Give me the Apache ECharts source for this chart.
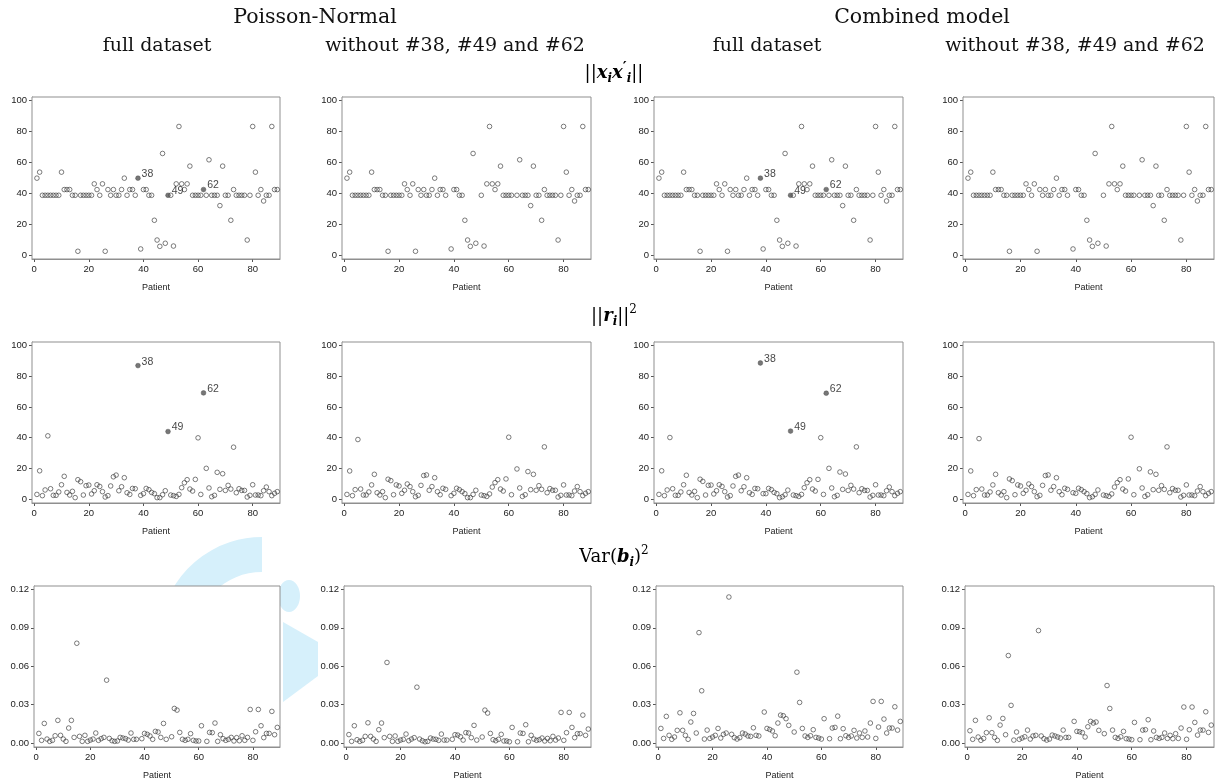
<!DOCTYPE html>
<html><head><meta charset="utf-8">
<script src="https://cdn.jsdelivr.net/npm/echarts@6/dist/echarts.min.js"></script>
<style>html,body{margin:0;padding:0;background:#fff}#c{width:1228px;height:782px}</style>
</head><body><div id="c"></div><script>
// ---------- data ----------
const patients = [1,2,3,4,5,6,7,8,9,10,11,12,13,14,15,16,17,18,19,20,21,22,23,24,25,26,27,28,29,30,
31,32,33,34,35,36,37,38,39,40,41,42,43,44,45,46,47,48,49,50,51,52,53,54,55,56,57,58,59,60,
61,62,63,64,65,66,67,68,69,70,71,72,73,74,75,76,77,78,79,80,81,82,83,84,85,86,87,88,89];
const flagged = [38, 49, 62];
const xTicks = [0, 20, 40, 60, 80];
const yTicksTop = [0, 20, 40, 60, 80, 100];
const yTicksVar = [0, 0.03, 0.06, 0.09, 0.12];

// ||x_i x_i'||  (same for both models)
const leverage = [
49.8,53.7,38.7,38.7,38.7,38.7,38.7,38.7,38.7,53.7,
42.4,42.4,42.4,38.7,38.7,2.4,38.7,38.7,38.7,38.7,
38.7,46.1,42.4,38.7,46.1,2.4,42.4,38.7,42.4,38.7,
38.7,42.4,49.8,38.7,42.4,42.4,38.7,49.8,3.9,42.4,
42.4,38.7,38.7,22.5,9.7,5.6,65.8,7.6,38.7,38.7,
5.8,46.1,83.3,46.1,42.4,46.1,57.6,38.7,38.7,38.7,
38.7,42.4,38.7,61.7,38.7,38.7,38.7,32.0,57.6,38.7,
38.7,22.5,42.4,38.7,38.7,38.7,38.7,9.7,38.7,83.3,
53.7,38.7,42.4,35.0,38.7,38.7,83.3,42.4,42.4];

// ||r_i||^2
const resPNFull = [
3.0,18.4,2.2,5.9,41.2,6.7,2.4,2.4,4.6,9.3,
14.8,4.3,2.6,5.0,0.9,12.6,11.3,2.6,8.7,9.1,
3.3,5.4,9.3,8.2,4.8,1.3,2.2,8.5,14.5,15.6,
5.4,8.0,13.9,4.1,3.0,6.9,6.7,87.0,2.4,3.5,
6.9,6.1,4.3,3.5,0.9,0.9,2.8,5.4,44.0,2.6,
2.2,1.7,3.0,7.4,10.6,12.6,6.5,5.2,12.8,39.9,
3.0,69.2,20.0,7.2,1.5,2.4,17.4,6.3,16.5,5.6,
8.9,6.5,33.8,4.1,6.7,5.6,5.6,1.3,2.4,9.3,
2.6,2.6,2.2,5.4,7.8,4.8,2.2,3.7,4.8];
const resPNRed = [
3.0,18.3,2.2,6.1,38.8,6.5,2.6,2.6,4.6,9.2,
16.1,4.1,2.6,4.8,0.9,12.9,12.0,2.8,9.2,8.5,
3.7,5.7,9.8,8.1,4.8,1.5,2.4,8.9,15.3,15.7,
5.7,8.1,13.9,4.8,2.8,7.0,6.3,null,2.2,3.7,
7.0,6.1,4.8,3.5,0.9,0.9,3.0,5.7,null,2.6,
2.2,1.7,3.3,7.8,10.7,12.6,6.5,5.2,13.1,40.3,
2.8,null,19.6,7.2,1.7,2.8,17.9,6.1,16.1,5.7,
8.7,6.3,34.0,4.1,6.8,5.7,5.7,1.3,2.4,9.2,
2.6,2.6,2.2,5.2,8.1,4.8,2.2,3.7,4.8];
const resCMFull = [
3.0,18.4,2.2,5.9,40.1,6.7,2.4,2.4,4.6,9.3,
15.5,4.3,2.6,5.0,0.9,12.9,11.5,2.6,8.9,9.1,
3.3,5.4,9.3,8.2,4.8,1.3,2.2,8.5,14.8,15.6,
5.4,8.0,13.9,4.1,3.0,6.9,6.7,88.7,3.5,3.5,
6.9,6.1,4.3,3.5,0.9,1.5,2.8,5.8,44.3,2.6,
2.2,1.7,3.0,7.4,10.6,12.6,6.5,5.2,12.8,40.0,
3.0,69.0,20.0,7.2,1.5,2.4,17.6,6.3,16.3,5.6,
8.9,6.5,34.0,4.1,6.7,5.6,5.6,1.3,2.4,9.3,
2.6,2.6,2.2,5.4,7.8,4.8,2.2,3.7,4.8];
const resCMRed = [
3.0,18.3,2.2,6.1,39.4,6.5,2.6,2.6,4.6,9.2,
16.1,4.1,2.6,4.8,0.9,13.1,12.0,2.8,9.2,8.5,
3.7,5.7,9.8,8.1,4.8,1.5,2.4,8.9,15.3,15.7,
5.7,8.1,13.9,4.8,2.8,7.0,6.3,null,4.1,3.7,
7.0,6.1,4.8,3.5,0.9,1.5,3.0,5.9,null,2.6,
2.2,1.7,3.3,7.8,10.7,12.6,6.5,5.2,13.1,40.3,
2.8,null,19.7,7.2,1.7,2.8,17.7,6.1,16.1,5.7,
8.7,6.3,34.0,4.1,6.8,5.7,5.7,1.3,2.4,9.2,
2.6,2.6,2.2,5.2,8.1,4.8,2.2,3.7,4.8];

// Var(b_i)^2
const varPNFull = [
0.0075,0.0021,0.0153,0.0031,0.0013,0.0021,0.0057,0.0177,0.0060,0.0031,
0.0013,0.0117,0.0177,0.0044,0.0779,0.0052,0.0013,0.0060,0.0013,0.0023,
0.0031,0.0078,0.0021,0.0034,0.0044,0.0491,0.0036,0.0018,0.0013,0.0016,
0.0044,0.0039,0.0034,0.0023,0.0078,0.0029,0.0029,0.0010,0.0034,0.0075,
0.0068,0.0055,0.0029,0.0091,0.0086,0.0044,0.0153,0.0029,0.0013,0.0049,
0.0270,0.0257,0.0083,0.0029,0.0021,0.0029,0.0073,0.0021,0.0016,0.0016,
0.0135,0.0010,0.0013,0.0083,0.0081,0.0156,0.0013,0.0065,0.0034,0.0021,
0.0029,0.0044,0.0016,0.0042,0.0018,0.0057,0.0021,0.0044,0.0262,0.0021,
0.0088,0.0262,0.0135,0.0042,0.0075,0.0075,0.0247,0.0065,0.0122];
const varPNRed = [
0.0066,0.0013,0.0135,0.0026,0.0013,0.0021,0.0052,0.0158,0.0052,0.0031,
0.0013,0.0104,0.0156,0.0042,0.0629,0.0052,0.0013,0.0055,0.0013,0.0023,
0.0029,0.0070,0.0018,0.0031,0.0042,0.0436,0.0031,0.0018,0.0010,0.0013,
0.0039,0.0031,0.0029,0.0021,0.0070,0.0023,0.0023,null,0.0029,0.0065,
0.0062,0.0049,0.0023,0.0081,0.0078,0.0042,0.0138,0.0023,null,0.0047,
0.0257,0.0234,0.0075,0.0026,0.0018,0.0029,0.0068,0.0016,0.0016,0.0010,
0.0122,null,0.0010,0.0078,0.0075,0.0143,0.0010,0.0060,0.0031,0.0021,
0.0026,0.0039,0.0016,0.0036,0.0018,0.0052,0.0023,0.0039,0.0239,0.0021,
0.0081,0.0239,0.0122,0.0042,0.0073,0.0073,0.0218,0.0060,0.0109];
const varCMFull = [
0.0114,0.0036,0.0208,0.0060,0.0029,0.0047,0.0099,0.0236,0.0099,0.0060,
0.0029,0.0164,0.0231,0.0078,0.0862,0.0408,0.0031,0.0101,0.0036,0.0047,
0.0060,0.0114,0.0039,0.0068,0.0078,0.1140,0.0068,0.0042,0.0031,0.0042,
0.0078,0.0070,0.0055,0.0052,0.0119,0.0060,0.0055,0.0026,0.0242,0.0114,
0.0106,0.0094,0.0057,0.0156,0.0218,0.0213,0.0190,0.0138,0.0031,0.0086,
0.0553,0.0317,0.0114,0.0055,0.0044,0.0057,0.0104,0.0044,0.0039,0.0031,
0.0190,0.0031,0.0034,0.0117,0.0122,0.0210,0.0034,0.0112,0.0057,0.0044,
0.0055,0.0099,0.0039,0.0078,0.0044,0.0094,0.0047,0.0156,0.0325,0.0036,
0.0125,0.0325,0.0187,0.0078,0.0117,0.0117,0.0283,0.0101,0.0169];
const varCMRed = [
0.0096,0.0029,0.0177,0.0047,0.0021,0.0036,0.0081,0.0197,0.0081,0.0044,
0.0021,0.0140,0.0192,0.0065,0.0683,0.0294,0.0023,0.0086,0.0029,0.0039,
0.0049,0.0101,0.0031,0.0055,0.0060,0.0878,0.0055,0.0034,0.0023,0.0031,
0.0062,0.0055,0.0047,0.0039,0.0101,0.0044,0.0044,null,0.0169,0.0091,
0.0088,0.0081,0.0047,0.0127,0.0169,0.0156,0.0164,0.0099,null,0.0073,
0.0449,0.0270,0.0101,0.0044,0.0036,0.0049,0.0091,0.0034,0.0031,0.0026,
0.0161,null,0.0026,0.0101,0.0104,0.0182,0.0026,0.0094,0.0044,0.0036,
0.0044,0.0078,0.0036,0.0060,0.0034,0.0073,0.0036,0.0117,0.0281,0.0029,
0.0104,0.0281,0.0161,0.0062,0.0101,0.0101,0.0244,0.0083,0.0140];

const modelTitles = ['Poisson-Normal', 'Combined model'];
const colTitles = ['full dataset', 'without #38, #49 and #62', 'full dataset', 'without #38, #49 and #62'];

// ---------- layout ----------
const colLeft = [[32, 342, 654, 963], [32, 342, 654, 963], [34, 344, 656, 965]];
const colRight = [280, 591, 903, 1214];
const rowTop = [97, 342, 586];
const rowBottom = [259, 503, 747];

const panels = [
  [0, 0, leverage, true], [0, 1, leverage, false], [0, 2, leverage, true], [0, 3, leverage, false],
  [1, 0, resPNFull, true], [1, 1, resPNRed, false], [1, 2, resCMFull, true], [1, 3, resCMRed, false],
  [2, 0, varPNFull, false], [2, 1, varPNRed, false], [2, 2, varCMFull, false], [2, 3, varCMRed, false]
];
const labelled = [[true, false, true, false], [true, false, true, false], [false, false, false, false]];

const grids = [], xAxes = [], yAxes = [], series = [];
const axisFont = 'Liberation Sans';
panels.forEach((p, i) => {
  const [r, c, vals] = p;
  const full = p[3];
  grids.push({
    left: colLeft[r][c], top: rowTop[r],
    width: colRight[c] - colLeft[r][c], height: rowBottom[r] - rowTop[r],
    show: true, borderColor: '#8f8f8f', borderWidth: 1, backgroundColor: '#fff', z: 2
  });
  xAxes.push({
    gridIndex: i, type: 'value', min: -0.8, max: 90,
    name: 'Patient', nameLocation: 'middle', nameGap: 24,
    nameTextStyle: { fontFamily: axisFont, fontSize: 9, color: '#222' },
    axisLine: { show: true, onZero: false, lineStyle: { color: '#8f8f8f', width: 1 } },
    axisTick: { show: true, length: 3, lineStyle: { color: '#555' }, customValues: xTicks },
    axisLabel: { fontFamily: axisFont, fontSize: 9.5, color: '#222', margin: 5, customValues: xTicks },
    splitLine: { show: false }
  });
  const isVar = r === 2;
  yAxes.push({
    gridIndex: i, type: 'value',
    min: isVar ? -0.0031 : -2.6, max: isVar ? 0.1226 : 102.4,
    axisLine: { show: true, onZero: false, lineStyle: { color: '#8f8f8f', width: 1 } },
    axisTick: { show: true, length: 3, lineStyle: { color: '#555' }, customValues: isVar ? yTicksVar : yTicksTop },
    axisLabel: {
      fontFamily: axisFont, fontSize: 9.5, color: '#222', margin: 5,
      customValues: isVar ? yTicksVar : yTicksTop,
      formatter: v => isVar ? Number(v).toFixed(2) : String(v)
    },
    splitLine: { show: false }
  });
  const showLab = labelled[r][c];
  const openPts = [], filledPts = [];
  patients.forEach((pt, k) => {
    const v = vals[k];
    if (v === null || v === undefined) return;
    if (!full && flagged.includes(pt)) return;
    if (showLab && flagged.includes(pt)) filledPts.push([pt, v]);
    else openPts.push([pt, v]);
  });
  series.push({
    type: 'scatter', xAxisIndex: i, yAxisIndex: i, data: openPts,
    symbol: 'circle', symbolSize: 4.6, z: 3,
    itemStyle: { color: 'rgba(255,255,255,0)', borderColor: '#333', borderWidth: 0.8 },
    silent: true, animation: false
  });
  if (filledPts.length) {
    series.push({
      type: 'scatter', xAxisIndex: i, yAxisIndex: i, data: filledPts,
      symbol: 'circle', symbolSize: 4.8, z: 4,
      itemStyle: { color: '#555', borderColor: '#444', borderWidth: 0.5 },
      label: {
        show: true, position: 'right', distance: 1, offset: [0, -4],
        formatter: d => String(d.value[0]),
        fontFamily: axisFont, fontSize: 10.5, color: '#111'
      },
      silent: true, animation: false
    });
  }
});

// ---------- headers ----------
const serif = 'DejaVu Serif';
const base = { fontFamily: serif, fontSize: 18, color: '#111', lineHeight: 24, verticalAlign: 'middle' };
const rich = {
  n: Object.assign({}, base),
  b: Object.assign({}, base, { fontWeight: 'bold', fontStyle: 'italic' }),
  sb: { fontFamily: serif, fontSize: 12, fontStyle: 'italic', fontWeight: 'bold', color: '#111', lineHeight: 13, verticalAlign: 'bottom' },
  sup: { fontFamily: serif, fontSize: 12, color: '#111', lineHeight: 13, verticalAlign: 'top' },
  supb: { fontFamily: serif, fontSize: 15, fontWeight: 'bold', color: '#111', lineHeight: 14, verticalAlign: 'top' }
};
const rowTitles = [
  '{n|||}{b|x}{sb|i}{b|x}{supb|′}{sb|i}{n|||}',
  '{n|||}{b|r}{sb|i}{n|||}{sup|2}',
  '{n|Var(}{b|b}{sb|i}{n|)}{sup|2}'
];
const rowTitleY = [73, 316, 557];
const colCenter = [157, 455, 767, 1075];
const modelCenter = [315, 922];

const graphic = [];
// faint watermark behind panels
const wm = '#d6f0fb';
graphic.push({
  type: 'sector', z: 0, silent: true,
  shape: { cx: 262, cy: 640, r: 103, r0: 68, startAngle: Math.PI * 0.9, endAngle: Math.PI * 1.5, clockwise: true },
  style: { fill: wm }
});
graphic.push({
  type: 'ellipse', z: 0, silent: true,
  shape: { cx: 289, cy: 596, rx: 11, ry: 16 },
  style: { fill: wm }
});
graphic.push({
  type: 'polygon', z: 0, silent: true,
  shape: { points: [[283, 622], [318, 642], [318, 676], [283, 702]] },
  style: { fill: wm }
});
modelTitles.forEach((t, k) => graphic.push({
  type: 'text', z: 10, style: { text: t, x: modelCenter[k], y: 18, align: 'center', verticalAlign: 'middle',
    fontFamily: serif, fontSize: 20.5, fill: '#111' }
}));
colTitles.forEach((t, k) => graphic.push({
  type: 'text', z: 10, style: { text: t, x: colCenter[k], y: 46, align: 'center', verticalAlign: 'middle',
    fontFamily: serif, fontSize: 19, fill: '#111' }
}));
rowTitles.forEach((t, k) => graphic.push({
  type: 'text', z: 10, style: { text: t, x: 614, y: rowTitleY[k], align: 'center', verticalAlign: 'middle', rich: rich }
}));

const chart = echarts.init(document.getElementById('c'), null, { renderer: 'canvas' });
chart.setOption({
  backgroundColor: '#fff', animation: false,
  grid: grids, xAxis: xAxes, yAxis: yAxes, series: series, graphic: graphic
});
</script></body></html>
